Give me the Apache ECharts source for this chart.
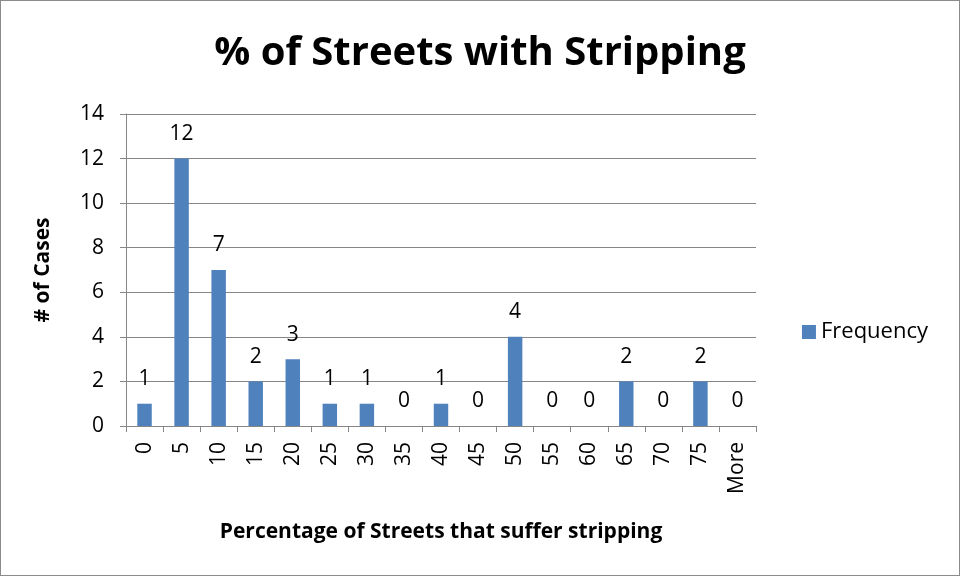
<!DOCTYPE html>
<html><head><meta charset="utf-8">
<script src="https://cdn.jsdelivr.net/npm/echarts@6/dist/echarts.min.js"></script>
<style>html,body{margin:0;padding:0;background:#fff}#c{width:960px;height:576px;box-sizing:border-box;border:1px solid #8c8c8c}</style>
</head><body><div id="c"></div>
<script>
const categories = ['0','5','10','15','20','25','30','35','40','45','50','55','60','65','70','75','More'];
const frequency = [1,12,7,2,3,1,1,0,1,0,4,0,0,2,0,2,0];
const yTicks = {min:0, max:14, interval:2};
const FONT = '"Open Sans", sans-serif';
const chart = echarts.init(document.getElementById('c'), null, {renderer:'canvas'});
chart.setOption({
  animation:false,
  backgroundColor:'#fff',
  title:{text:'% of Streets with Stripping', left:'center', top:28,
    textStyle:{fontFamily:FONT, fontSize:40, fontWeight:'bold', color:'#000'}},
  legend:{right:26, top:315, itemWidth:14, itemHeight:14, itemGap:8,
    textStyle:{fontFamily:FONT, fontSize:22, color:'#000'},
    data:[{name:'Frequency', icon:'rect'}]},
  grid:{left:125, right:203, top:113, bottom:149, containLabel:false},
  xAxis:{type:'category', data:categories, boundaryGap:true,
    name:'Percentage of Streets that suffer stripping', nameLocation:'middle', nameGap:96,
    nameTextStyle:{fontFamily:FONT, fontSize:21, fontWeight:'bold', color:'#000'},
    axisLine:{lineStyle:{color:'#868686', width:1}},
    axisTick:{show:true, length:6, alignWithLabel:false, lineStyle:{color:'#868686'}},
    axisLabel:{rotate:90, fontFamily:FONT, fontSize:21, color:'#000', margin:16, interval:0}},
  yAxis:{type:'value', min:yTicks.min, max:yTicks.max, interval:yTicks.interval,
    name:'# of Cases', nameLocation:'middle', nameGap:72, nameRotate:90,
    nameTextStyle:{fontFamily:FONT, fontSize:21, fontWeight:'bold', color:'#000'},
    axisLine:{show:true, lineStyle:{color:'#868686'}},
    axisTick:{show:true, length:6, lineStyle:{color:'#868686'}},
    splitLine:{lineStyle:{color:'#868686', width:1}},
    axisLabel:{fontFamily:FONT, fontSize:21, color:'#000', margin:22}},
  series:[{name:'Frequency', type:'bar', data:frequency, barWidth:'39%',
    itemStyle:{color:'#4F81BD'},
    label:{show:true, position:'top', distance:14, fontFamily:FONT, fontSize:21, color:'#000'}}]
});
</script></body></html>
